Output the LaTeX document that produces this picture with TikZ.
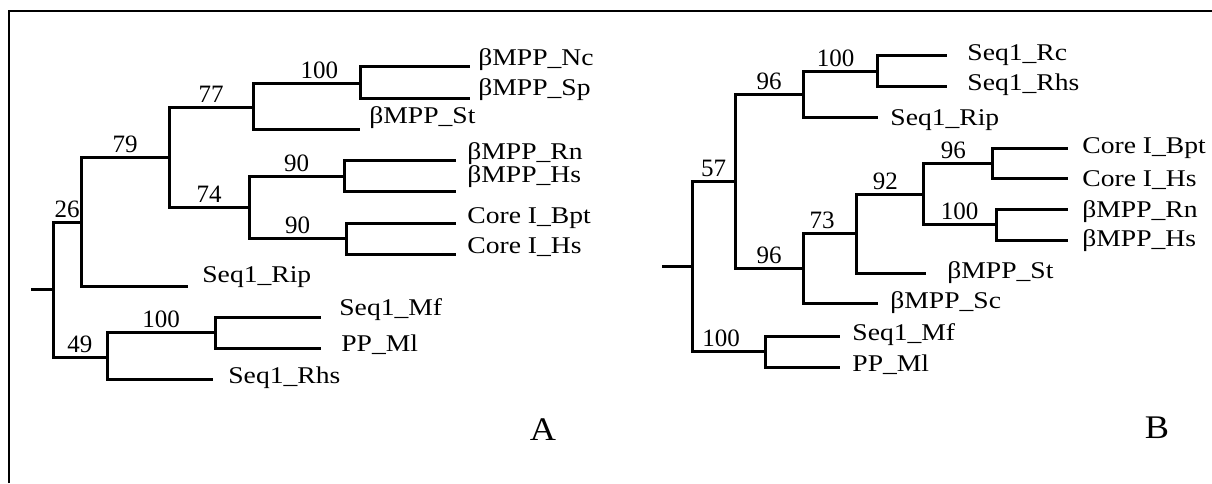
\documentclass[tikz,border=0pt]{standalone}
\usepackage{fontspec}
\setmainfont{Liberation Serif}
\newfontfamily\leaffont[FakeStretch=1.15]{Liberation Serif}
\newfontfamily\panelfont[FakeStretch=1.1]{Liberation Serif}
\usepackage{tikz}
\usetikzlibrary{calc}

\begin{document}
\begin{tikzpicture}[
    x=0.5pt, y=-0.5pt,  % one unit = one pixel of the figure, y grows downward
    branch/.style={line width=1.5pt},
    bs/.style={above, pos=.75, inner sep=1.5pt, font=\fontsize{12.5}{14}\selectfont},
    leaf/.style={anchor=west, inner sep=0pt, font=\leaffont\fontsize{12}{14}\selectfont},
    panel/.style={font=\panelfont\fontsize{16.5}{18}\selectfont},
]
\useasboundingbox (0,0) rectangle (1212,483);

% ── Frame (top and left edges only) ─────────────────────────────────────────
\draw[line width=1pt] (9,483) |- (1212,11);

% ── Tree A: internal nodes and tips ─────────────────────────────────────────
\coordinate (stubA) at (31,289);
\coordinate (rootA) at (53,289);
\coordinate (n26)   at (81,222);
\coordinate (n49)   at (107,357);
\coordinate (n79)   at (169,157);
\coordinate (n77)   at (253,107);
\coordinate (n74)   at (249,207);
\coordinate (nNcSp) at (360,83);
\coordinate (nRnHs) at (344,176);
\coordinate (nCore) at (346,238);
\coordinate (nMfMl) at (215,332);
% tips
\coordinate (tNc)   at (470,66);
\coordinate (tSp)   at (470,98);
\coordinate (tSt)   at (360,129);
\coordinate (tRn)   at (456,160);
\coordinate (tHs)   at (456,191);
\coordinate (tBpt)  at (456,223);
\coordinate (tCHs)  at (456,254);
\coordinate (tRip)  at (188,286);
\coordinate (tMf)   at (321,317);
\coordinate (tMl)   at (321,348);
\coordinate (tRhs)  at (213,379);

% ── Tree A: branches with bootstrap values ──────────────────────────────────
\draw[branch] (stubA) -- (rootA);
\draw[branch] (rootA) |- node[bs] (a26) {26} (n26);
\draw[branch] (rootA) |- node[bs] (a49) {49} (n49);
\draw[branch] (n26) |- node[bs] (a79) {79} (n79);
\draw[branch] (n26) |- (tRip);
\draw[branch] (n79) |- node[bs] (a77) {77} (n77);
\draw[branch] (n79) |- node[bs] (a74) {74} (n74);
\draw[branch] (n77) |- node[bs, pos=.81] (a100) {100} (nNcSp);
\draw[branch] (n77) |- (tSt);
\draw[branch] (nNcSp) |- (tNc);
\draw[branch] (nNcSp) |- (tSp);
\draw[branch] (n74) |- node[bs] (a90) {90} (nRnHs);
\draw[branch] (n74) |- node[bs] (a90b) {90} (nCore);
\draw[branch] (nRnHs) |- (tRn);
\draw[branch] (nRnHs) |- (tHs);
\draw[branch] (nCore) |- (tBpt);
\draw[branch] (nCore) |- (tCHs);
\draw[branch] (n49) |- node[bs] (a100m) {100} (nMfMl);
\draw[branch] (n49) |- (tRhs);
\draw[branch] (nMfMl) |- (tMf);
\draw[branch] (nMfMl) |- (tMl);

% ── Tree A: leaf labels ─────────────────────────────────────────────────────
\node[leaf] (lNc)  at (478,60)  {βMPP\_Nc};
\node[leaf] (lSp)  at (478,90)  {βMPP\_Sp};
\node[leaf] (lSt)  at (369,118) {βMPP\_St};
\node[leaf] (lRn)  at (467,154) {βMPP\_Rn};
\node[leaf] (lHs)  at (467,177) {βMPP\_Hs};
\node[leaf] (lBpt) at (467,218) {Core I\_Bpt};
\node[leaf] (lCHs) at (467,247) {Core I\_Hs};
\node[leaf] (lRip) at (202,277) {Seq1\_Rip};
\node[leaf] (lMf)  at (339,310) {Seq1\_Mf};
\node[leaf] (lMl)  at (341,345) {PP\_Ml};
\node[leaf] (lRhs) at (228,378) {Seq1\_Rhs};
\node[panel] (panelA) at (543,430) {A};

% ── Tree B: internal nodes and tips ─────────────────────────────────────────
\coordinate (stubB)  at (662,266);
\coordinate (rootB)  at (692,266);
\coordinate (m57)    at (735,181);
\coordinate (mMfMl)  at (765,351);
\coordinate (m96)    at (803,94);
\coordinate (m96b)   at (803,268);
\coordinate (mRcRhs) at (877,71);
\coordinate (m73)    at (856,233);
\coordinate (m92)    at (923,194);
\coordinate (mCore)  at (992,163);
\coordinate (mRnHs)  at (996,224);
% tips
\coordinate (uRc)   at (947,55);
\coordinate (uRhs)  at (947,86);
\coordinate (uRip)  at (878,117);
\coordinate (uBpt)  at (1068,148);
\coordinate (uCHs)  at (1068,178);
\coordinate (uRn)   at (1068,209);
\coordinate (uHs)   at (1068,240);
\coordinate (uSt)   at (926,273);
\coordinate (uSc)   at (878,303);
\coordinate (uMf)   at (840,336);
\coordinate (uMl)   at (840,367);

% ── Tree B: branches with bootstrap values ──────────────────────────────────
\draw[branch] (stubB) -- (rootB);
\draw[branch] (rootB) |- node[bs] (b57) {57} (m57);
\draw[branch] (rootB) |- node[bs, pos=.7] (b100m) {100} (mMfMl);
\draw[branch] (m57) |- node[bs] (b96) {96} (m96);
\draw[branch] (m57) |- node[bs] (b96b) {96} (m96b);
\draw[branch] (m96) |- node[bs, pos=.72] (b100) {100} (mRcRhs);
\draw[branch] (m96) |- (uRip);
\draw[branch] (mRcRhs) |- (uRc);
\draw[branch] (mRcRhs) |- (uRhs);
\draw[branch] (m96b) |- node[bs, pos=.68] (b73) {73} (m73);
\draw[branch] (m96b) |- (uSc);
\draw[branch] (m73) |- node[bs, pos=.72] (b92) {92} (m92);
\draw[branch] (m73) |- (uSt);
\draw[branch] (m92) |- node[bs, pos=.72] (b96c) {96} (mCore);
\draw[branch] (m92) |- node[bs] (b100c) {100} (mRnHs);
\draw[branch] (mCore) |- (uBpt);
\draw[branch] (mCore) |- (uCHs);
\draw[branch] (mRnHs) |- (uRn);
\draw[branch] (mRnHs) |- (uHs);
\draw[branch] (mMfMl) |- (uMf);
\draw[branch] (mMfMl) |- (uMl);

% ── Tree B: leaf labels ─────────────────────────────────────────────────────
\node[leaf] (kRc)  at (967,55)  {Seq1\_Rc};
\node[leaf] (kRhs) at (967,85)  {Seq1\_Rhs};
\node[leaf] (kRip) at (890,120) {Seq1\_Rip};
\node[leaf] (kBpt) at (1082,148) {Core I\_Bpt};
\node[leaf] (kCHs) at (1082,180) {Core I\_Hs};
\node[leaf] (kRn)  at (1082,212) {βMPP\_Rn};
\node[leaf] (kHs)  at (1082,241) {βMPP\_Hs};
\node[leaf] (kSt)  at (947,273) {βMPP\_St};
\node[leaf] (kSc)  at (890,303) {βMPP\_Sc};
\node[leaf] (kMf)  at (852,335) {Seq1\_Mf};
\node[leaf] (kMl)  at (852,365) {PP\_Ml};
\node[panel] (panelB) at (1157,428) {B};

\end{tikzpicture}
\end{document}
